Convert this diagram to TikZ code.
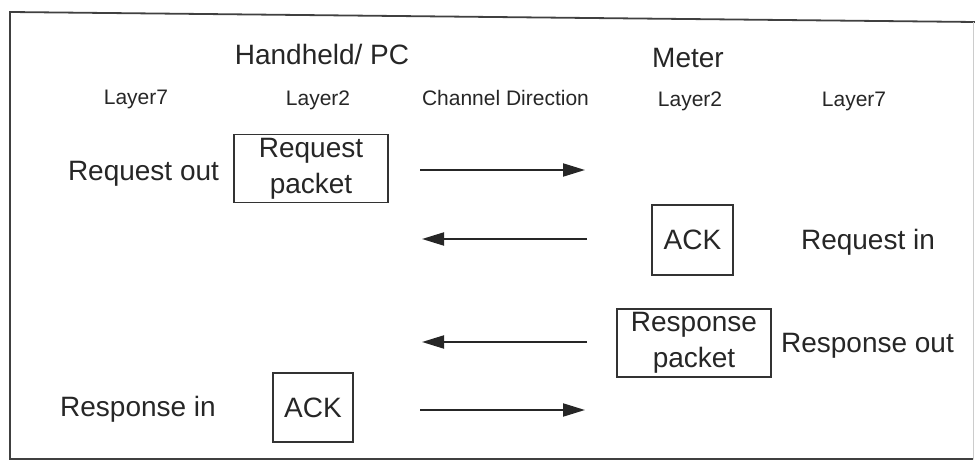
\documentclass[tikz,border=0pt]{standalone}
\usepackage{fontspec}
\setmainfont{Liberation Sans}
\usetikzlibrary{arrows.meta}
\begin{document}
\begin{tikzpicture}[x=1pt,y=-1pt,
  big/.style={font=\fontsize{28}{36}\selectfont, text=black!85, inner sep=0pt},
  small/.style={font=\fontsize{21}{25}\selectfont, text=black!85, inner sep=0pt},
  framebox/.style={draw=black!80, line width=1.4pt, align=center, inner sep=0pt,
                   font=\fontsize{28}{36}\selectfont, text=black!85},
  flow/.style={draw=black!85, line width=2pt, -{Triangle[length=22pt,width=13pt]}}
]
\useasboundingbox (0,0) rectangle (975,462);

% outer frame
\coordinate (fTL) at (10,12);
\coordinate (fTR) at (975,22);
\coordinate (fBL) at (10,459);
\coordinate (fBR) at (973,459);
\coordinate (fRT) at (973,22);
\draw[black!75, line width=1.8pt] (fTR) -- (fTL) -- (fBL) -- (fBR);
\draw[black!20, line width=1pt] (fRT) -- (fBR);

% headings
\node[big, anchor=base] (hh) at (322,65) {Handheld/ PC};
\node[big, anchor=base] (meter) at (688,68) {Meter};
\node[small, anchor=base] (l7a) at (136,105) {Layer7};
\node[small, anchor=base] (l2a) at (318,106) {Layer2};
\node[small, anchor=base] (chan) at (505.5,106) {Channel Direction};
\node[small, anchor=base] (l2b) at (690,107) {Layer2};
\node[small, anchor=base] (l7b) at (854,107) {Layer7};

% layer-7 events
\node[big, anchor=base] (reqout) at (143.5,181) {Request out};
\node[big, anchor=base] (reqin) at (868,250) {Request in};
\node[big, anchor=base] (respout) at (867.5,353) {Response out};
\node[big, anchor=base] (respin) at (138,416) {Response in};

% layer-2 frames
\node[framebox, minimum width=154pt, minimum height=68pt] (reqpkt) at (311,168.5) {Request\\packet};
\node[framebox, minimum width=81pt, minimum height=70pt] (ackm) at (692.5,240) {ACK};
\node[framebox, minimum width=154pt, minimum height=68pt] (resppkt) at (694,343) {Response\\packet};
\node[framebox, minimum width=80pt, minimum height=69pt] (ackh) at (313,407.5) {ACK};

% channel arrows
\coordinate (a1s) at (420,170);
\coordinate (a1e) at (585,170);
\coordinate (a2s) at (587,239);
\coordinate (a2e) at (422,239);
\coordinate (a3s) at (587,342);
\coordinate (a3e) at (422,342);
\coordinate (a4s) at (420,410);
\coordinate (a4e) at (585,410);
\draw[flow] (a1s) -- (a1e);
\draw[flow] (a2s) -- (a2e);
\draw[flow] (a3s) -- (a3e);
\draw[flow] (a4s) -- (a4e);
\end{tikzpicture}
\end{document}
